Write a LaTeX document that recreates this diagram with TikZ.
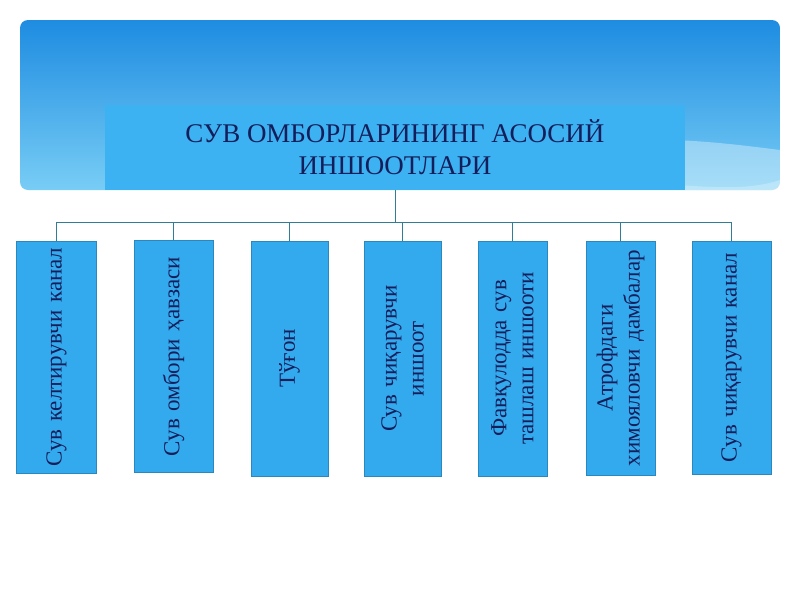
\documentclass[tikz,border=0pt]{standalone}
\usepackage{fontspec}
\setmainfont{Liberation Serif}
\usetikzlibrary{positioning}
\definecolor{bannertop}{RGB}{30,140,225}
\definecolor{bannerbot}{RGB}{120,205,245}
\definecolor{boxfill}{RGB}{52,170,238}
\definecolor{titlefill}{RGB}{60,178,242}
\definecolor{wirecolor}{RGB}{50,125,150}
\definecolor{textblue}{RGB}{20,30,90}
\tikzset{
  part/.style={draw=boxfill!80!black, line width=0.4pt, fill=boxfill, minimum height=80pt,
    inner sep=2pt, align=center, rotate=90, font=\fontsize{23}{27}\selectfont, text=textblue},
  wire/.style={draw=wirecolor, line width=1pt}
}
\begin{document}
\begin{tikzpicture}[x=1pt,y=-1pt]
\useasboundingbox (0,0) rectangle (800,600);
% banner
\shade[top color=bannertop, bottom color=bannerbot, rounded corners=8pt] (20,20) rectangle (780,190);
\fill[white, opacity=0.35] (420,190) .. controls (560,120) and (700,140) .. (780,150) -- (780,190) -- cycle;
\fill[white, opacity=0.25] (560,190) .. controls (640,170) and (720,200) .. (780,180) -- (780,190) -- cycle;
% title
\node[fill=titlefill, minimum width=580pt, minimum height=85pt, align=center,
  font=\fontsize{27}{32}\selectfont, text=textblue] (title) at (395,147.5)
  {СУВ ОМБОРЛАРИНИНГ АСОСИЙ\\ИНШООТЛАРИ};
% parts
\node[part, minimum width=232pt, text width=228pt] (p1) at (56.5,357) {Сув келтирувчи канал};
\node[part, minimum width=231pt, text width=228pt, minimum height=79pt] (p2) at (173.5,356.5) {Сув омбори ҳавзаси};
\node[part, minimum width=235pt, text width=228pt, minimum height=77pt] (p3) at (289.5,358.5) {Тўғон};
\node[part, minimum width=235pt, text width=228pt, minimum height=77pt] (p4) at (402.5,358.5) {Сув чиқарувчи\\иншоот};
\node[part, minimum width=235pt, text width=228pt, minimum height=69pt] (p5) at (512.5,358.5) {Фавқулодда сув\\ташлаш иншооти};
\node[part, minimum width=234pt, text width=228pt, minimum height=69pt] (p6) at (620.5,358) {Атрофдаги\\химояловчи дамбалар};
\node[part, minimum width=233pt, text width=228pt, minimum height=79pt] (p7) at (731.5,357.5) {Сув чиқарувчи канал};
% connectors
\coordinate (bus) at (395,222);
\draw[wire] (title.south) -- (bus);
\draw[wire] (p1.east |- bus) -- (p7.east |- bus);
\foreach \p in {p1,p2,p3,p4,p5,p6,p7}
  \draw[wire] (\p.east |- bus) -- (\p.east);
\end{tikzpicture}
\end{document}
